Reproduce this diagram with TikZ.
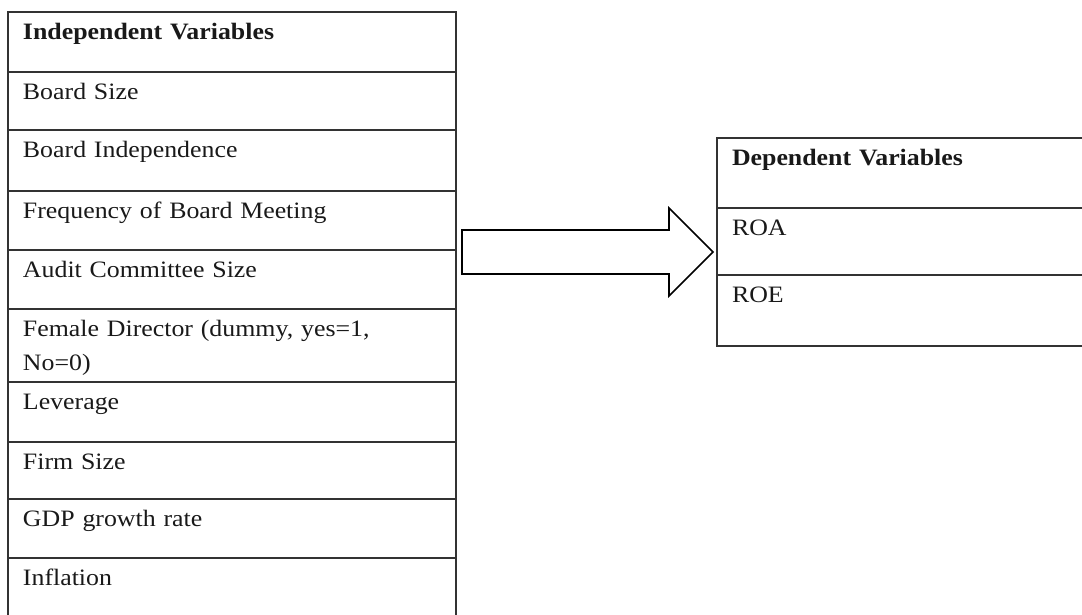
\documentclass[tikz,border=0pt]{standalone}
\usepackage{fontspec}
\setmainfont{Liberation Serif}[FakeStretch=1.1]
\usetikzlibrary{positioning,calc}
\tikzset{
  cellbox/.style={draw=black!80, line width=1.1pt, outer sep=0pt, inner xsep=15pt, inner ysep=0pt,
    align=left, text height=27.5pt, font=\fontsize{23.5pt}{34pt}\selectfont, text=black!90},
  indcell/.style={cellbox, text width=418pt, text depth={#1-27.5pt}},
  depcell/.style={cellbox, text width=350pt, text depth={#1-27.5pt}},
  blockarrow/.style={draw=black, line width=1.6pt, line join=miter, fill=white}
}
\begin{document}
\begin{tikzpicture}[x=1pt, y=-1pt]
  \useasboundingbox (0,0) rectangle (1082,614);
  % independent variables
  \node[indcell=60pt, anchor=north west] (ivhead) at (8,12) {\textbf{Independent Variables}};
  \node[indcell=58pt, below=0pt of ivhead] (bsize) {Board Size};
  \node[indcell=61pt, below=0pt of bsize] (bindep) {Board Independence};
  \node[indcell=59pt, below=0pt of bindep] (freq) {Frequency of Board Meeting};
  \node[indcell=59pt, below=0pt of freq] (audit) {Audit Committee Size};
  \node[indcell=73pt, below=0pt of audit] (female) {Female Director (dummy, yes=1,\\No=0)};
  \node[indcell=60pt, below=0pt of female] (lev) {Leverage};
  \node[indcell=57pt, below=0pt of lev] (fsize) {Firm Size};
  \node[indcell=59pt, below=0pt of fsize] (gdp) {GDP growth rate};
  \node[indcell=62pt, below=0pt of gdp] (infl) {Inflation};
  % dependent variables
  \node[depcell=70pt, anchor=north west] (dvhead) at (717,138) {\textbf{Dependent Variables}};
  \node[depcell=67pt, below=0pt of dvhead] (roa) {ROA};
  \node[depcell=71pt, below=0pt of roa] (roe) {ROE};
  % block arrow
  \coordinate (tail) at (462,252);
  \coordinate (tip) at (713,252);
  \draw[blockarrow] ($(tail)+(0,-22)$) -- ($(tip)+(-44,-22)$) -- ($(tip)+(-44,-44)$) -- (tip)
    -- ($(tip)+(-44,44)$) -- ($(tip)+(-44,22)$) -- ($(tail)+(0,22)$) -- cycle;
\end{tikzpicture}
\end{document}
